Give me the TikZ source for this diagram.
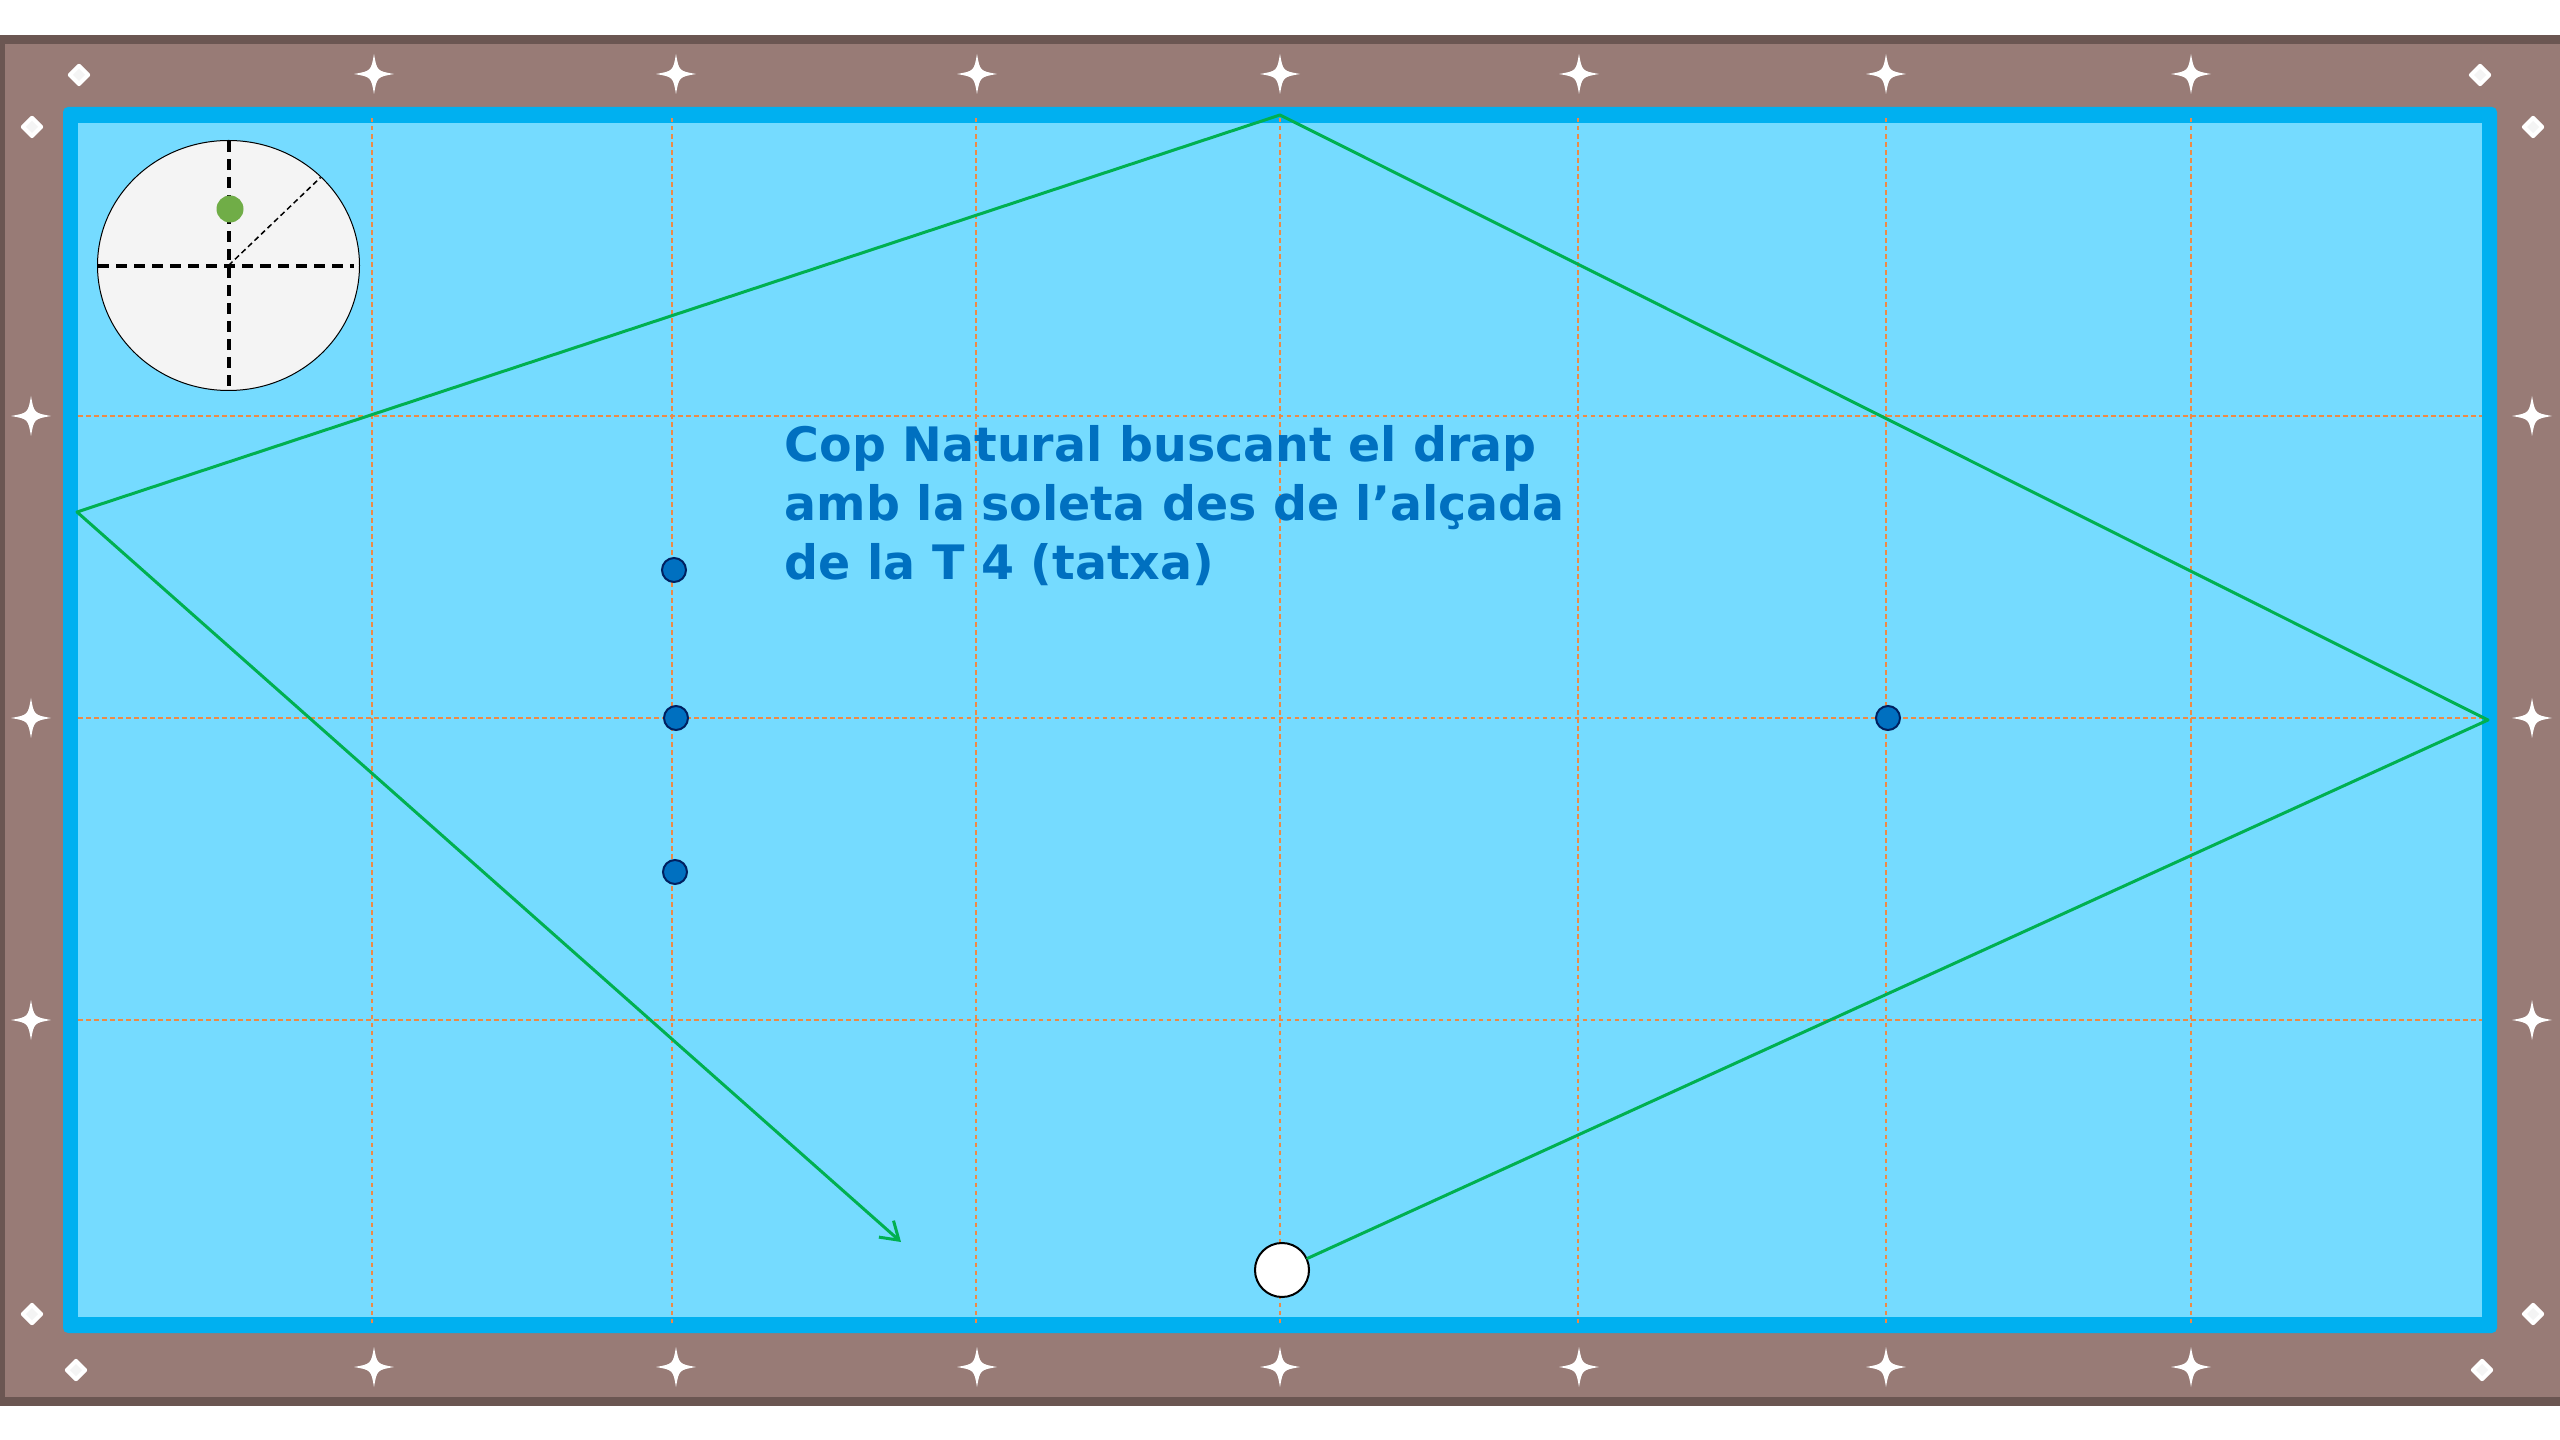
\documentclass[tikz,border=0pt]{standalone}
\usepackage{fontspec}
\newfontfamily\notefont{DejaVu Sans}
\usetikzlibrary{arrows.meta}
\definecolor{framebrown}{HTML}{987B76}
\definecolor{framedark}{HTML}{6B5652}
\definecolor{cushion}{HTML}{00B0F0}
\definecolor{cloth}{HTML}{75DBFF}
\definecolor{gridorange}{HTML}{ED8A45}
\definecolor{shotgreen}{HTML}{00B050}
\definecolor{ballblue}{HTML}{0070C0}
\definecolor{ballnavy}{HTML}{002060}
\definecolor{spindot}{HTML}{70AD47}
\definecolor{spinface}{HTML}{F4F4F4}
\tikzset{
  gridline/.style={gridorange, line width=0.015cm, dash pattern=on 0.045cm off 0.035cm},
  spinaxis/.style={black, line width=0.032cm, dash pattern=on 0.11cm off 0.07cm},
  spintilt/.style={black, line width=0.015cm, dash pattern=on 0.055cm off 0.035cm},
  objball/.style={circle, fill=ballblue, draw=ballnavy, line width=0.02cm, minimum size=0.24cm, inner sep=0pt},
  cueball/.style={circle, fill=white, draw=black, line width=0.02cm, minimum size=0.54cm, inner sep=0pt},
  shot/.style={shotgreen, line width=0.03cm, line join=round, line cap=round,
    -{Straight Barb[length=0.17cm, width=0.22cm]}},
  notetext/.style={align=left, inner sep=0pt, text=ballblue,
    font=\notefont\bfseries\fontsize{13.5pt}{16.8pt}\selectfont},
  sparkle/.pic={\fill[white] (0,-20) .. controls (3,-3) .. (20,0) .. controls (3,3) .. (0,20)
    .. controls (-3,3) .. (-20,0) .. controls (-3,-3) .. (0,-20);},
  cornermark/.pic={\fill[white, rounded corners=0.02cm] (0,-12) -- (12,0) -- (0,12) -- (-12,0) -- cycle;
    \fill[spinface] (0,-6) -- (6,0) -- (0,6) -- (-6,0) -- cycle;}
}
\begin{document}
\begin{tikzpicture}[x=0.01cm, y=-0.01cm]
            \useasboundingbox (0,0) rectangle (2560,1440);
            \clip (0,0) rectangle (2560,1440);
            \draw [framedark, fill=framebrown, line width=0.09cm] (0,39.5) rectangle (2590,1401);
            \fill [cushion, rounded corners=0.05cm] (63,107) rectangle (2497,1333);
            \fill [cloth] (78,123) rectangle (2482,1317);
            \foreach \gx in {372,672,976,1280,1578,1886,2191} {
              \draw [gridline] (\gx,118) -- (\gx,1324);
            }
            \foreach \gx in {374,676,977,1280,1579,1886,2191} {
              \pic at (\gx,74) {sparkle};
              \pic at (\gx,1367) {sparkle};
            }
            \foreach \gy in {416,718,1020} {
              \draw [gridline] (78,\gy) -- (2482,\gy);
              \pic at (31,\gy) {sparkle};
              \pic at (2532,\gy) {sparkle};
            }
            \pic at (79,75) {cornermark};
            \pic at (32,127) {cornermark};
            \pic at (2480,75) {cornermark};
            \pic at (2533,127) {cornermark};
            \pic at (32,1314) {cornermark};
            \pic at (76,1370) {cornermark};
            \pic at (2533,1314) {cornermark};
            \pic at (2482,1370) {cornermark};
            \coordinate (spin) at (228.5,265.5);
            \draw [black, fill=spinface, line width=0.01cm] (spin) ellipse [x radius=131, y radius=125];
            \draw [spinaxis] (98,266) -- (354,266);
            \draw [spinaxis] (229,141) -- (229,390);
            \draw [spintilt] (spin) -- +(92,-88);
            \fill [spindot] (230,209) circle (13.5);
            \node [notetext, anchor=north west] (note) at (784,425)
              {Cop Natural buscant el drap\\amb la soleta des de l’alçada\\de la T 4 (tatxa)};
            \node [objball] (ball1) at (674,570) {};
            \node [objball] (ball2) at (676,718) {};
            \node [objball] (ball3) at (675,872) {};
            \node [objball] (ball4) at (1888,718) {};
            \node [cueball] (cue) at (1282,1270) {};
            \coordinate (railR) at (2488,720);
            \coordinate (railT) at (1280,115);
            \coordinate (railL) at (77,512);
            \coordinate (aim) at (901,1242);
            \draw [shot] (cue) -- (railR) -- (railT) -- (railL) -- (aim);
\end{tikzpicture}
\end{document}
